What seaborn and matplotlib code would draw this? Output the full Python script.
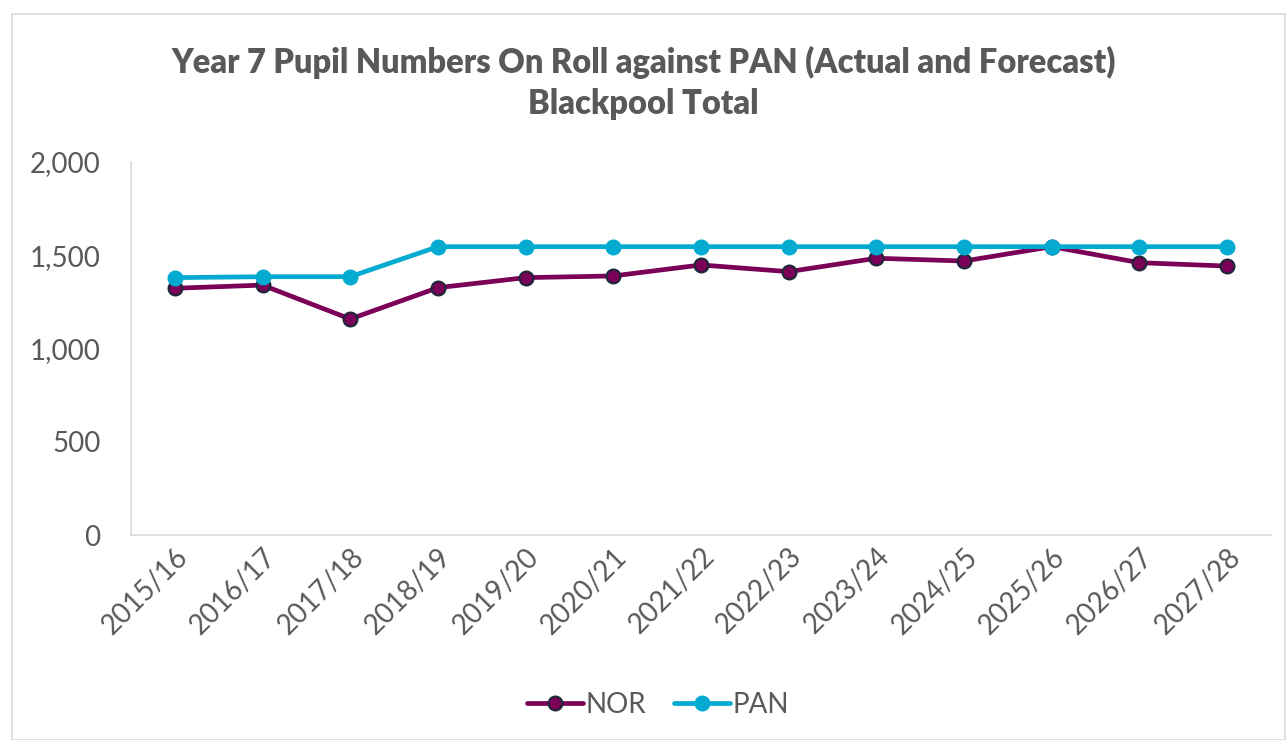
import matplotlib
matplotlib.use("Agg")
import matplotlib.pyplot as plt
import seaborn as sns
import pandas as pd
from matplotlib.patches import Rectangle
from matplotlib.ticker import FuncFormatter

years = ["2015/16", "2016/17", "2017/18", "2018/19", "2019/20", "2020/21", "2021/22",
         "2022/23", "2023/24", "2024/25", "2025/26", "2026/27", "2027/28"]
nor = [1323, 1340, 1158, 1326, 1380, 1389, 1448, 1412, 1484, 1469, 1546, 1460, 1442]
pan = [1380, 1385, 1385, 1546, 1546, 1546, 1546, 1546, 1546, 1546, 1546, 1546, 1546]

sns.set_theme(style="white")
plt.rcParams['font.family'] = ['Lato', 'DejaVu Sans']

TXT = "#595959"
C_NOR = "#7B0057"
C_PAN = "#04AACF"

fig = plt.figure(figsize=(12.87, 7.40), dpi=100)
ax = fig.add_axes([131/1287, 1-535/740, (1271-131)/1287, (535-162)/740])

df_nor = pd.DataFrame({"year": years, "value": nor})
df_pan = pd.DataFrame({"year": years, "value": pan})

sns.lineplot(data=df_nor, x="year", y="value", ax=ax, sort=False, color=C_NOR,
             linewidth=3.4, marker="o", markersize=10, markeredgecolor="#1B2838",
             markeredgewidth=1.5, label="NOR")
sns.lineplot(data=df_pan, x="year", y="value", ax=ax, sort=False, color=C_PAN,
             linewidth=3.4, marker="o", markersize=10, markeredgecolor=C_PAN,
             markeredgewidth=1.5, label="PAN")

ax.set_ylim(0, 2000)
ax.set_xlim(-0.5, len(years) - 0.5)
ax.set_yticks([0, 500, 1000, 1500, 2000])
ax.yaxis.set_major_formatter(FuncFormatter(lambda v, p: f"{int(v):,}"))
ax.set_xlabel("")
ax.set_ylabel("")
ax.tick_params(axis="y", labelsize=20, labelcolor=TXT, length=0, pad=22)
ax.tick_params(axis="x", labelsize=20, labelcolor=TXT, length=0, pad=6)
for lab in ax.get_xticklabels():
    lab.set_rotation(45)
    lab.set_ha("right")
    lab.set_rotation_mode("anchor")

for s in ["top", "right"]:
    ax.spines[s].set_visible(False)
for s in ["left", "bottom"]:
    ax.spines[s].set_color("#D9D9D9")
    ax.spines[s].set_linewidth(1.2)

fig.text(0.5, 1-62/740, "Year 7 Pupil Numbers On Roll against PAN (Actual and Forecast)",
         ha="center", va="center", fontsize=23.5, fontweight="heavy", color=TXT)
fig.text(0.5, 1-104/740, "Blackpool Total",
         ha="center", va="center", fontsize=23.5, fontweight="heavy", color=TXT)

ax.legend(loc="center", bbox_to_anchor=((658-131)/1140, -(705-535)/373), bbox_transform=ax.transAxes,
          ncol=2, frameon=False, fontsize=20, labelcolor=TXT, handlelength=2.0,
          columnspacing=1.0, handletextpad=0.1)

fig.patches.append(Rectangle((12/1287, 0), (1285-12)/1287, 1-14/740, transform=fig.transFigure,
                             fill=False, edgecolor="#D9D9D9", linewidth=1.2))

fig.savefig("out.png", dpi=100)
